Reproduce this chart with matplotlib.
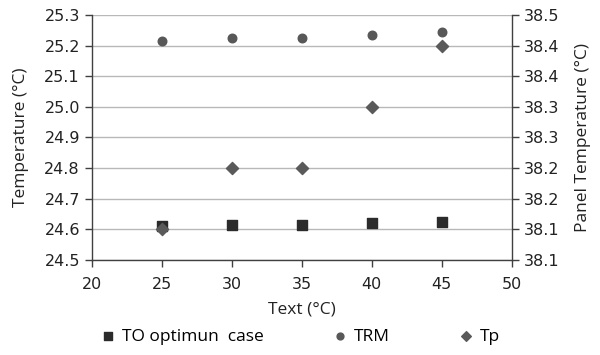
import matplotlib.pyplot as plt

text_temp = [25, 30, 35, 40, 45]
to_optimum = [24.610, 24.615, 24.615, 24.620, 24.625]
trm = [25.215, 25.225, 25.225, 25.235, 25.245]
tp = [38.15, 38.25, 38.25, 38.35, 38.45]

left_ticks = [24.5, 24.6, 24.7, 24.8, 24.9, 25.0, 25.1, 25.2, 25.3]
right_ticks = [38.10, 38.15, 38.20, 38.25, 38.30, 38.35, 38.40, 38.45, 38.50]
right_labels = ['38.1', '38.1', '38.2', '38.2', '38.3', '38.3', '38.4', '38.4', '38.5']

fig = plt.figure(figsize=(6, 3.55), dpi=100)
ax1 = fig.add_axes([0.153, 0.268, 0.7, 0.69])
ax2 = ax1.twinx()

spine_col = '#404040'
for a in (ax1, ax2):
    for s in a.spines.values():
        s.set_visible(False)
ax1.spines['left'].set_visible(True)
ax1.spines['bottom'].set_visible(True)
ax2.spines['right'].set_visible(True)
for s in (ax1.spines['left'], ax1.spines['bottom'], ax2.spines['right']):
    s.set_color(spine_col)
    s.set_linewidth(1.0)

ax1.set_xlim(20, 50)
ax1.set_xticks(range(20, 55, 5))
ax1.set_ylim(24.5, 25.3)
ax1.set_yticks(left_ticks)
ax1.set_yticklabels([f'{v:.1f}' for v in left_ticks])
ax1.grid(axis='y', color='#b8b8b8', linewidth=1.0)
ax1.set_axisbelow(True)

ax2.set_ylim(38.1, 38.5)
ax2.set_yticks(right_ticks)
ax2.set_yticklabels(right_labels)

for a in (ax1, ax2):
    a.tick_params(labelsize=11.5, colors='#222222', length=5, width=1.0, direction='out')
    a.tick_params(axis='both', color=spine_col)
ax1.tick_params(axis='x', pad=7)

l1 = ax1.scatter(text_temp, to_optimum, marker='s', s=42, color='#2b2b2b', zorder=3, label='TO optimun  case')
l2 = ax1.scatter(text_temp, trm, marker='o', s=38, color='#585858', zorder=3, label='TRM')
l3 = ax2.scatter(text_temp, tp, marker='D', s=38, color='#5a5a5a', zorder=3, label='Tp')

lab_font = 'Open Sans'
ax1.set_xlabel('Text (°C)', fontsize=12.5, family=lab_font, color='#222222', labelpad=7)
ax1.set_ylabel('Temperature (°C)', fontsize=12.5, family=lab_font, color='#222222', labelpad=11)
ax2.set_ylabel('Panel Temperature (°C)', fontsize=12.5, family=lab_font, color='#222222', labelpad=11)

fig.legend(handles=[l1, l2, l3], loc='lower center', bbox_to_anchor=(0.5, -0.015), ncol=3,
           frameon=False, columnspacing=3.9, handletextpad=0.3, handlelength=1.0, markerscale=0.8,
           prop={'family': lab_font, 'size': 12.5})

fig.savefig('out.png', dpi=100)
